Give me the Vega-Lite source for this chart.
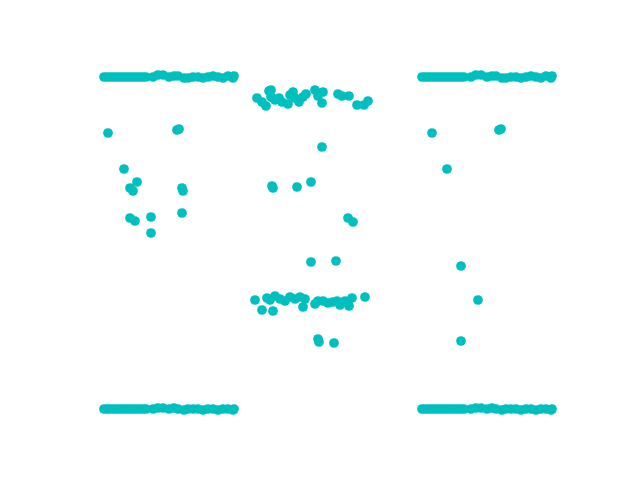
{
  "$schema": "https://vega.github.io/schema/vega-lite/v6.json",
  "width": 640,
  "height": 480,
  "autosize": {"type": "fit", "contains": "padding"},
  "padding": 0,
  "background": "white",
  "view": {"stroke": null},
  "data": {"values": [
    {"x":104,"y":404},{"x":107,"y":404},{"x":110,"y":404},{"x":113,"y":404},{"x":116,"y":404},{"x":119,"y":404},{"x":122,"y":404},{"x":125,"y":404},{"x":128,"y":404},{"x":131,"y":404},{"x":134,"y":404},{"x":137,"y":404},{"x":140,"y":404},{"x":143,"y":404},{"x":146,"y":404},
    {"x":153,"y":404},{"x":158,"y":406},{"x":163,"y":406},{"x":169,"y":404},{"x":174,"y":405},{"x":178,"y":405},{"x":184,"y":403},{"x":188,"y":403},{"x":193,"y":404},{"x":198,"y":404},{"x":203,"y":403},{"x":208,"y":404},{"x":213,"y":405},{"x":218,"y":404},{"x":223,"y":403},{"x":228,"y":405},{"x":233,"y":403},{"x":234,"y":405},
    {"x":104,"y":72},{"x":107,"y":72},{"x":110,"y":72},{"x":113,"y":72},{"x":116,"y":72},{"x":119,"y":72},{"x":122,"y":72},{"x":125,"y":72},{"x":128,"y":72},{"x":131,"y":72},{"x":134,"y":72},{"x":137,"y":72},{"x":140,"y":72},{"x":143,"y":72},{"x":146,"y":72},
    {"x":153,"y":72},{"x":158,"y":73},{"x":163,"y":73},{"x":169,"y":72},{"x":174,"y":73},{"x":178,"y":72},{"x":184,"y":71},{"x":188,"y":72},{"x":193,"y":72},{"x":198,"y":72},{"x":203,"y":71},{"x":208,"y":72},{"x":213,"y":72},{"x":218,"y":71},{"x":223,"y":72},{"x":228,"y":72},{"x":233,"y":71},{"x":234,"y":72},
    {"x":108,"y":348},{"x":124,"y":312},{"x":130,"y":293},{"x":133,"y":290},{"x":137,"y":299},{"x":177,"y":351},{"x":179,"y":352},{"x":182,"y":293},{"x":183,"y":290},{"x":130,"y":263},{"x":135,"y":260},{"x":151,"y":264},{"x":151,"y":248},{"x":182,"y":268},
    {"x":257,"y":383},{"x":262,"y":379},{"x":266,"y":375},{"x":269,"y":390},{"x":271,"y":384},{"x":275,"y":381},{"x":279,"y":383},{"x":282,"y":379},{"x":288,"y":377},{"x":290,"y":386},{"x":293,"y":389},{"x":295,"y":383},{"x":299,"y":379},{"x":303,"y":384},{"x":306,"y":387},{"x":315,"y":391},{"x":318,"y":385},{"x":322,"y":378},{"x":323,"y":389},{"x":338,"y":387},{"x":342,"y":385},{"x":349,"y":385},{"x":357,"y":376},{"x":364,"y":376},{"x":368,"y":380},{"x":271,"y":391},
    {"x":322,"y":334},{"x":272,"y":295},{"x":273,"y":293},{"x":297,"y":294},{"x":311,"y":299},{"x":348,"y":263},{"x":353,"y":259},{"x":311,"y":219},{"x":336,"y":220},
    {"x":255,"y":181},{"x":262,"y":171},{"x":267,"y":183},{"x":270,"y":181},{"x":273,"y":170},{"x":275,"y":185},{"x":280,"y":182},{"x":285,"y":180},{"x":290,"y":184},{"x":295,"y":182},{"x":300,"y":184},{"x":303,"y":174},{"x":305,"y":182},{"x":315,"y":177},{"x":318,"y":180},{"x":323,"y":180},{"x":328,"y":178},{"x":333,"y":179},{"x":337,"y":180},{"x":340,"y":176},{"x":345,"y":180},{"x":349,"y":175},{"x":352,"y":183},{"x":365,"y":184},
    {"x":318,"y":142},{"x":319,"y":139},{"x":334,"y":138},
    {"x":422,"y":404},{"x":425,"y":404},{"x":428,"y":404},{"x":431,"y":404},{"x":434,"y":404},{"x":437,"y":404},{"x":440,"y":404},{"x":443,"y":404},{"x":446,"y":404},{"x":449,"y":404},{"x":452,"y":404},{"x":455,"y":404},{"x":458,"y":404},{"x":461,"y":404},{"x":464,"y":404},
    {"x":471,"y":404},{"x":476,"y":406},{"x":481,"y":406},{"x":487,"y":404},{"x":492,"y":405},{"x":496,"y":405},{"x":502,"y":403},{"x":506,"y":403},{"x":511,"y":404},{"x":516,"y":404},{"x":521,"y":403},{"x":526,"y":404},{"x":531,"y":405},{"x":536,"y":404},{"x":541,"y":403},{"x":546,"y":405},{"x":551,"y":403},{"x":552,"y":405},
    {"x":422,"y":72},{"x":425,"y":72},{"x":428,"y":72},{"x":431,"y":72},{"x":434,"y":72},{"x":437,"y":72},{"x":440,"y":72},{"x":443,"y":72},{"x":446,"y":72},{"x":449,"y":72},{"x":452,"y":72},{"x":455,"y":72},{"x":458,"y":72},{"x":461,"y":72},{"x":464,"y":72},
    {"x":471,"y":72},{"x":476,"y":73},{"x":481,"y":73},{"x":487,"y":72},{"x":492,"y":73},{"x":496,"y":72},{"x":502,"y":71},{"x":506,"y":72},{"x":511,"y":72},{"x":516,"y":72},{"x":521,"y":71},{"x":526,"y":72},{"x":531,"y":72},{"x":536,"y":71},{"x":541,"y":72},{"x":546,"y":72},{"x":551,"y":71},{"x":552,"y":72},
    {"x":432,"y":348},{"x":499,"y":351},{"x":501,"y":352},{"x":447,"y":312},{"x":461,"y":215},{"x":478,"y":181},{"x":461,"y":140}
  ]},
  "mark": {"type": "circle", "size": 95, "opacity": 1, "color": "#00bfbf"},
  "encoding": {
    "x": {"field": "x", "type": "quantitative", "scale": {"domain": [0, 640], "nice": false, "zero": false}, "axis": null},
    "y": {"field": "y", "type": "quantitative", "scale": {"domain": [1, 481], "nice": false, "zero": false}, "axis": null}
  }
}
